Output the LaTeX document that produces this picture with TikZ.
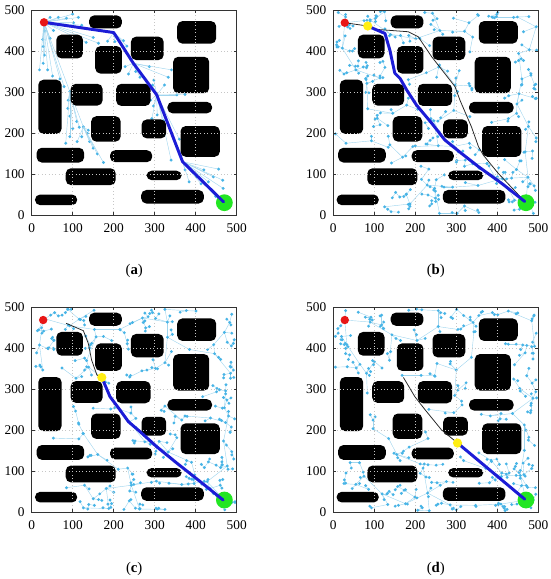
\documentclass[tikz,border=0pt]{standalone}
\usepackage{fontspec}
\setmainfont{Liberation Serif}
\usepackage{xfp}
\usetikzlibrary{positioning}

\definecolor{edgeblue}{RGB}{160,213,238}
\definecolor{dotblue}{RGB}{72,180,230}
\definecolor{pathblue}{RGB}{28,28,214}
\definecolor{startred}{RGB}{232,22,22}
\definecolor{goalgreen}{RGB}{34,230,34}
\definecolor{wpyellow}{RGB}{255,238,20}

% obstacles in map units: \obst{x1}{y1}{x2}{y2}
\def\obstacles{%
  \obst{140}{455}{220}{487}\obst{355}{418}{450}{473}\obst{60}{382}{125}{440}%
  \obst{155}{345}{220}{412}\obst{242}{378}{322}{435}\obst{345}{297}{433}{386}%
  \obst{16}{198}{73}{330}\obst{95}{267}{173}{320}\obst{206}{266}{290}{320}%
  \obst{331}{248}{440}{276}\obst{145}{179}{217}{241}\obst{268}{187}{328}{233}%
  \obst{363}{142}{459}{217}\obst{12}{128}{128}{164}\obst{191}{129}{294}{158}%
  \obst{83}{73}{205}{114}\obst{280}{85}{366}{108}\obst{8}{24}{111}{50}%
  \obst{267}{28}{420}{61}}

\newcount\rrtn \newcount\rrtk \newcount\rrtj
\newcount\rrtbest \newcount\rrtbestd \newcount\rrtd
\newcount\rrtsx \newcount\rrtsy \newcount\rrtnx \newcount\rrtny
\newcount\rrtcx \newcount\rrtcy
\newif\ifrrtfree

% point (#1,#2) clear of the map border and of every obstacle?
\def\obstfree#1#2{%
  \rrtfreetrue
  \ifnum#1<4 \rrtfreefalse\fi \ifnum#1>496 \rrtfreefalse\fi
  \ifnum#2<4 \rrtfreefalse\fi \ifnum#2>496 \rrtfreefalse\fi
  \def\obst##1##2##3##4{%
    \ifnum#1>\numexpr##1-6\relax \ifnum#1<\numexpr##3+6\relax
    \ifnum#2>\numexpr##2-6\relax \ifnum#2<\numexpr##4+6\relax
      \rrtfreefalse\fi\fi\fi\fi}%
  \obstacles}

% nearest tree node to the sample
\def\rrtscan{%
  \ifnum\rrtj<\rrtn
    \rrtd=\numexpr(\csname rx\the\rrtj\endcsname-\rrtsx)*(\csname rx\the\rrtj\endcsname-\rrtsx)%
      +(\csname ry\the\rrtj\endcsname-\rrtsy)*(\csname ry\the\rrtj\endcsname-\rrtsy)\relax
    \ifnum\rrtd<\rrtbestd \rrtbestd=\rrtd \rrtbest=\rrtj\fi
    \advance\rrtj 1
    \expandafter\rrtscan
  \fi}

% tree from the goal (#1,#2) and the start: seed #3, samples #4, step #5, nodes #6
\def\growtree#1#2#3#4#5#6{%
  \pgfmathsetseed{#3}%
  \global\rrtn=2
  \expandafter\xdef\csname rx0\endcsname{#1}%
  \expandafter\xdef\csname ry0\endcsname{#2}%
  \expandafter\xdef\csname rp0\endcsname{0}%
  \expandafter\xdef\csname rx1\endcsname{28}%
  \expandafter\xdef\csname ry1\endcsname{469}%
  \expandafter\xdef\csname rp1\endcsname{1}%
  \rrtk=0
  \loop
    \pgfmathrandominteger{\rrtrx}{0}{500}%
    \pgfmathrandominteger{\rrtry}{0}{500}%
    \rrtsx=\rrtrx\relax \rrtsy=\rrtry\relax
    \rrtbestd=1000000 \rrtbest=0 \rrtj=0
    \rrtscan
    \edef\bx{\csname rx\the\rrtbest\endcsname}%
    \edef\by{\csname ry\the\rrtbest\endcsname}%
    \rrtnx=\fpeval{round(\bx+(\the\rrtsx-\bx)*min(1,#5/sqrt(\the\rrtbestd+1)))}\relax
    \rrtny=\fpeval{round(\by+(\the\rrtsy-\by)*min(1,#5/sqrt(\the\rrtbestd+1)))}\relax
    \rrtcx=\numexpr(\bx+\rrtnx)/2\relax
    \rrtcy=\numexpr(\by+\rrtny)/2\relax
    \obstfree\rrtcx\rrtcy
    \ifrrtfree \obstfree\rrtnx\rrtny \fi
    \ifrrtfree
      \expandafter\xdef\csname rx\the\rrtn\endcsname{\the\rrtnx}%
      \expandafter\xdef\csname ry\the\rrtn\endcsname{\the\rrtny}%
      \expandafter\xdef\csname rp\the\rrtn\endcsname{\the\rrtbest}%
      \global\advance\rrtn 1
    \fi
    \advance\rrtk 1
    \ifnum\rrtn>#6 \rrtk=#4 \fi
  \ifnum\rrtk<#4 \repeat}

\newcommand\drawtree{%
  \edef\nlast{\the\numexpr\rrtn-1\relax}%
  \foreach \i in {2,...,\nlast}{%
    \edef\tx{\csname rx\i\endcsname}\edef\ty{\csname ry\i\endcsname}%
    \edef\tp{\csname rp\i\endcsname}%
    \edef\ux{\csname rx\tp\endcsname}\edef\uy{\csname ry\tp\endcsname}%
    \draw[edg] (\tx,\ty) -- (\ux,\uy);}%
  \foreach \i in {2,...,\nlast}{%
    \edef\tx{\csname rx\i\endcsname}\edef\ty{\csname ry\i\endcsname}%
    \fill[smp] (\tx,\ty) circle[radius=0.4mm];}}

\newcommand\drawobstacles{%
  \def\obst##1##2##3##4{\fill[obs] (##1,##2) rectangle (##3,##4);}%
  \obstacles}

\newcommand\drawframe{%
  \foreach \t in {100,200,300,400}{
    \draw[grd] (\t,0) -- (\t,500);
    \draw[grd] (0,\t) -- (500,\t);}
  \draw[axs] (0,0) rectangle (500,500);
  \foreach \t in {0,100,...,500}{
    \draw[axs] (\t,0) -- (\t,7) (\t,500) -- (\t,493) (0,\t) -- (7,\t) (500,\t) -- (493,\t);
    \node[tck, below=2mm] at (\t,0) {\t};
    \node[tck, left=1.7mm] at (0,\t) {\t};}}

\begin{document}
\begin{tikzpicture}[x=0.25mm, y=-0.25mm,
    panel/.style={x=0.1025mm, y=0.1025mm},
    obs/.style={fill=black, rounded corners=1.3mm},
    grd/.style={gray!45, dotted, line width=0.4pt},
    axs/.style={black!80, line width=0.5pt},
    tck/.style={inner sep=0pt, font=\fontsize{9.5}{11}\selectfont},
    subcap/.style={inner sep=0pt, font=\fontsize{10.5}{12}\selectfont},
    edg/.style={edgeblue, line width=0.3pt},
    smp/.style={fill=dotblue},
    pth/.style={pathblue, line width=2.1pt, line join=round, line cap=round},
    trk/.style={black!85, line width=0.55pt, line join=round},
    startpt/.style={fill=startred},
    goalpt/.style={fill=goalgreen},
    wpt/.style={fill=wpyellow}]
\useasboundingbox (0,0) rectangle (550,579);

% (a) first plan
\begin{scope}[shift={(31.7,215)}, panel]
  \coordinate (s) at (30,470);
  \coordinate (w1) at (200,445);
  \coordinate (w2) at (248,370);
  \coordinate (w3) at (305,293);
  \coordinate (w4) at (368,130);
  \coordinate (g) at (468,32);
  \coordinate (m1) at (93,301);
  \coordinate (m2) at (126,215);
  \foreach \x/\y/\p in {45/482/s, 65/482/s, 85/480/s, 100/490/s, 114/482/s, 102/469/s,
      122/463/s, 53/450/s, 31/449/s, 27/428/s, 45/431/s, 28/411/s, 31/390/s, 28/370/s,
      19/354/s, 39/354/s, 51/339/s, 69/332/s, 79/313/s, 93/301/s,
      89/280/m1, 88/260/m1, 93/241/m1, 100/211/m1, 93/191/m1, 83/175/m1, 110/228/m1,
      116/214/m1, 126/215/m1,
      136/199/m2, 138/207/m2, 122/191/m2, 111/179/m2, 141/179/m2, 150/163/m2, 160/149/m2,
      175/128/m2, 133/421/s, 150/433/s, 163/419/s,
      185/424/w1, 203/423/w1, 224/425/w1, 232/412/w1,
      228/362/w2, 236/344/w2, 254/350/w2, 264/336/w2, 287/362/w2, 341/354/w2, 333/336/w2,
      298/329/w3, 295/317/w3, 324/317/w3, 354/293/w3, 374/294/w3, 290/280/w3, 297/266/w3,
      293/235/w3, 306/244/w3, 321/230/w3, 340/134/w3, 360/185/w3,
      374/110/w4, 384/81/w4, 402/93/w4, 420/110/w4, 431/81/w4, 443/93/w4, 456/112/w4,
      466/85/w4, 467/65/w4, 449/45/w4, 413/76/w4}{
    \draw[edg] (\p) -- (\x,\y);
    \fill[smp] (\x,\y) circle[radius=0.4mm];}
  \drawobstacles
  \drawframe
  \fill[goalpt] (470,30) circle[radius=2.1mm];
  \draw[pth] (s) -- (w1) -- (w2) -- (w3) -- (w4) -- (g);
  \fill[startpt] (s) circle[radius=1.05mm];
\end{scope}

% (b) replanning from the first waypoint
\begin{scope}[shift={(333.3,215)}, panel]
  \growtree{470}{30}{11}{1200}{62}{300}
  \drawtree
  \drawobstacles
  \drawframe
  \coordinate (s) at (28,469);
  \coordinate (y) at (84,461);
  \fill[goalpt] (470,30) circle[radius=2.1mm];
  \draw[trk] (s) -- (y) -- (102,453) -- (183,447) -- (207,435) -- (240,386) -- (297,313)
    -- (309,280) -- (337,215) -- (354,167) -- (366,146) -- (402,102) -- (467,33);
  \draw[pth] (y) -- (102,453) -- (126,443) -- (138,402) -- (150,346) -- (163,333)
    -- (179,305) -- (203,268) -- (240,224) -- (272,183) -- (313,150) -- (354,118)
    -- (411,77) -- (467,33);
  \fill[startpt] (s) circle[radius=1.05mm];
  \fill[wpt] (y) circle[radius=1.15mm];
\end{scope}

% (c)
\begin{scope}[shift={(31.7,512.3)}, panel]
  \growtree{470}{30}{23}{1200}{62}{300}
  \drawtree
  \drawobstacles
  \drawframe
  \coordinate (s) at (28,469);
  \coordinate (y) at (171,329);
  \fill[goalpt] (470,30) circle[radius=2.1mm];
  \draw[trk] (84,461) -- (126,443) -- (138,412) -- (146,372) -- (159,335) -- (y);
  \draw[pth] (y) -- (191,282) -- (215,250) -- (236,221) -- (264,197) -- (305,160)
    -- (354,120) -- (411,75) -- (467,30);
  \fill[startpt] (s) circle[radius=1.05mm];
  \fill[wpt] (y) circle[radius=1.15mm];
\end{scope}

% (d)
\begin{scope}[shift={(333.3,512.3)}, panel]
  \growtree{470}{30}{37}{1200}{62}{300}
  \drawtree
  \drawobstacles
  \drawframe
  \coordinate (s) at (28,469);
  \coordinate (y) at (303,169);
  \fill[goalpt] (470,30) circle[radius=2.1mm];
  \draw[trk] (171,329) -- (199,282) -- (224,250) -- (264,201) -- (y);
  \draw[pth] (y) -- (467,32);
  \fill[startpt] (s) circle[radius=1.05mm];
  \fill[wpt] (y) circle[radius=1.15mm];
\end{scope}

\node[subcap] (capa) at (134.2,271) {(\textbf{a})};
\node[subcap] (capb) at (435.8,271) {(\textbf{b})};
\node[subcap] (capc) at (134.2,569) {(\textbf{c})};
\node[subcap] (capd) at (435.8,569) {(\textbf{d})};
\end{tikzpicture}
\end{document}
